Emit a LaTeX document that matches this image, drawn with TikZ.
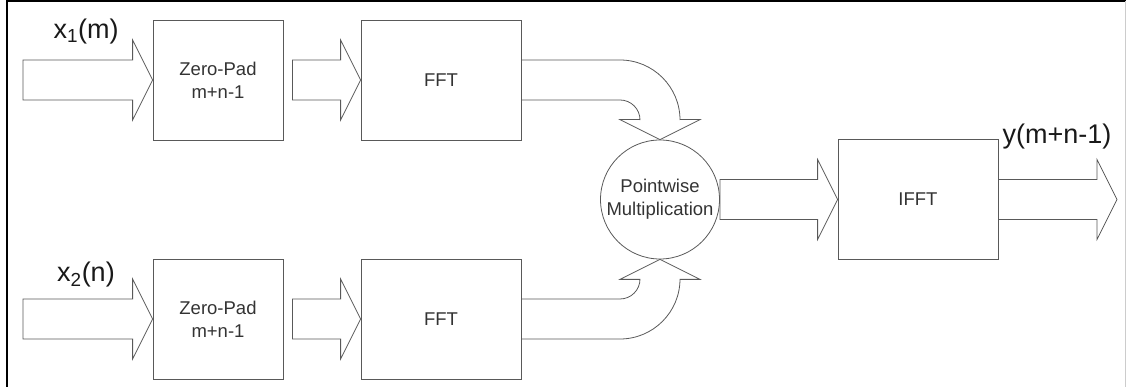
\documentclass[tikz,border=0pt]{standalone}
\usepackage{fontspec}
\setmainfont{Liberation Sans}
\usetikzlibrary{calc}

\begin{document}
\begin{tikzpicture}[x=1pt,y=1pt,
		block/.style={draw=black!65, line width=0.8pt, text=black!80, inner sep=0pt, align=center, font=\fontsize{18.5}{23}\selectfont},
		fat/.style={draw=black!65, line width=0.8pt, line join=miter},
		sig/.style={text=black!90, inner sep=0pt, anchor=base, font=\fontsize{27}{32}\selectfont}]
			\useasboundingbox (0,0) rectangle (1126,387);
			\draw[line width=1.6pt] (7,0) -- (7,386.2) -- (1126,386.2);
			\draw[black!20] (1125,0) -- (1125,386);
			% blocks
			\node[block, minimum width=130pt, minimum height=120pt] (zp1) at (218,307) {Zero-Pad\\m+n-1};
			\node[block, minimum width=160pt, minimum height=120pt] (fft1) at (441,307) {FFT};
			\node[block, minimum width=130pt, minimum height=120pt] (zp2) at (218,68) {Zero-Pad\\m+n-1};
			\node[block, minimum width=160pt, minimum height=120pt] (fft2) at (441,68) {FFT};
			\node[block, circle, minimum size=119pt] (mult) at (660,187.5) {Pointwise\\Multiplication};
			\node[block, minimum width=160pt, minimum height=120pt] (ifft) at (918,187.5) {IFFT};
			\coordinate (in1) at (23,307);
			\coordinate (in2) at (23,68);
			\coordinate (out) at (1117,187.5);
			% signal labels
			\node[sig] (lx1) at (86,348.5) {x\textsubscript{1}(m)};
			\node[sig] (lx2) at (86,105) {x\textsubscript{2}(n)};
			\node[sig] (ly) at (1057,243) {y(m+n-1)};
			% straight block arrows
			\draw[fat] let \p1=(in1), \p2=(zp1.west) in (\x1,\y1+20pt) -- (\x2-20pt,\y1+20pt) -- (\x2-20pt,\y1+40pt) -- (\x2,\y1) -- (\x2-20pt,\y1-40pt) -- (\x2-20pt,\y1-20pt) -- (\x1,\y1-20pt) -- cycle;
			\draw[fat] let \p1=([xshift=9pt]zp1.east), \p2=(fft1.west) in (\x1,\y1+20pt) -- (\x2-20pt,\y1+20pt) -- (\x2-20pt,\y1+40pt) -- (\x2,\y1) -- (\x2-20pt,\y1-40pt) -- (\x2-20pt,\y1-20pt) -- (\x1,\y1-20pt) -- cycle;
			\draw[fat] let \p1=(in2), \p2=(zp2.west) in (\x1,\y1+20pt) -- (\x2-20pt,\y1+20pt) -- (\x2-20pt,\y1+40pt) -- (\x2,\y1) -- (\x2-20pt,\y1-40pt) -- (\x2-20pt,\y1-20pt) -- (\x1,\y1-20pt) -- cycle;
			\draw[fat] let \p1=([xshift=9pt]zp2.east), \p2=(fft2.west) in (\x1,\y1+20pt) -- (\x2-20pt,\y1+20pt) -- (\x2-20pt,\y1+40pt) -- (\x2,\y1) -- (\x2-20pt,\y1-40pt) -- (\x2-20pt,\y1-20pt) -- (\x1,\y1-20pt) -- cycle;
			\draw[fat] let \p1=(mult.east), \p2=(ifft.west) in (\x1,\y1+20pt) -- (\x2-20pt,\y1+20pt) -- (\x2-20pt,\y1+40pt) -- (\x2,\y1) -- (\x2-20pt,\y1-40pt) -- (\x2-20pt,\y1-20pt) -- (\x1,\y1-20pt) -- cycle;
			\draw[fat] let \p1=(ifft.east), \p2=(out) in (\x1,\y1+20pt) -- (\x2-20pt,\y1+20pt) -- (\x2-20pt,\y1+40pt) -- (\x2,\y1) -- (\x2-20pt,\y1-40pt) -- (\x2-20pt,\y1-20pt) -- (\x1,\y1-20pt) -- cycle;
			% bent arrows into the multiplier
			\draw[fat] let \p1=(fft1.east), \p2=(mult.north) in (\x1,\y1+20pt) -- (\x2-40pt,\y1+20pt) arc[start angle=90, end angle=0, radius=60pt] -- (\x2+20pt,\y2+20pt) -- (\x2+40pt,\y2+20pt) -- (\x2,\y2) -- (\x2-40pt,\y2+20pt) -- (\x2-20pt,\y2+20pt) -- (\x2-20pt,\y1-40pt) arc[start angle=0, end angle=90, radius=20pt] -- (\x1,\y1-20pt);
			\draw[fat] let \p1=(fft2.east), \p2=(mult.south) in (\x1,\y1-20pt) -- (\x2-40pt,\y1-20pt) arc[start angle=-90, end angle=0, radius=60pt] -- (\x2+20pt,\y2-20pt) -- (\x2+40pt,\y2-20pt) -- (\x2,\y2) -- (\x2-40pt,\y2-20pt) -- (\x2-20pt,\y2-20pt) -- (\x2-20pt,\y1+40pt) arc[start angle=0, end angle=-90, radius=20pt] -- (\x1,\y1+20pt);
		\end{tikzpicture}
\end{document}
